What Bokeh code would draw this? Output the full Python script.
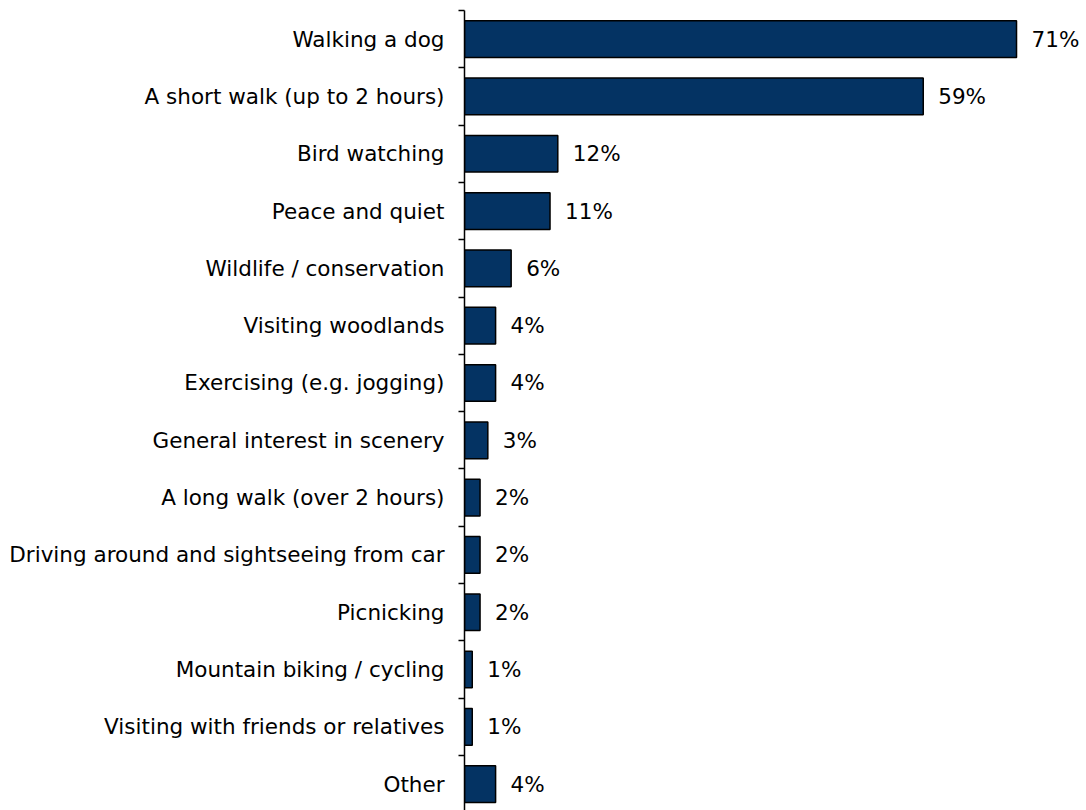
from bokeh.plotting import figure
from bokeh.models import Range1d, FixedTicker, ColumnDataSource
from bokeh.core.properties import value
from bokeh.embed import file_html
from bokeh.resources import INLINE

categories = [
    "Walking a dog",
    "A short walk (up to 2 hours)",
    "Bird watching",
    "Peace and quiet",
    "Wildlife / conservation",
    "Visiting woodlands",
    "Exercising (e.g. jogging)",
    "General interest in scenery",
    "A long walk (over 2 hours)",
    "Driving around and sightseeing from car",
    "Picnicking",
    "Mountain biking / cycling",
    "Visiting with friends or relatives",
    "Other",
]
values = [71, 59, 12, 11, 6, 4, 4, 3, 2, 2, 2, 1, 1, 4]
labels = [f"{v}%" for v in values]

n = len(categories)
ys = [i + 0.5 for i in range(n)]

FONT = "DejaVu Sans"
FS = "21.5px"

src = ColumnDataSource(dict(y=ys, v=values, lab=labels, cat=categories))

p = figure(
    width=1086, height=810,
    output_backend="svg", toolbar_location=None,
    x_range=Range1d(0, 80), y_range=Range1d(start=13.96, end=0),
    x_axis_location=None,
    min_border_left=464, min_border_right=0, min_border_top=10, min_border_bottom=0,
)
p.outline_line_color = None
p.xgrid.visible = False
p.ygrid.visible = False
p.background_fill_color = "white"
p.border_fill_color = "white"

p.hbar(y="y", right="v", left=0, height=0.64, source=src,
       fill_color="#043363", line_color="black", line_width=1.5)

p.text(x="v", y="y", text="lab", source=src, x_offset=15,
       text_baseline="middle", text_align="left",
       text_font=value(FONT), text_font_size=FS, text_color="black")

ax = p.yaxis[0]
ax.ticker = FixedTicker(ticks=ys, minor_ticks=list(range(n + 1)))
ax.major_label_overrides = {y: c for y, c in zip(ys, categories)}
ax.major_tick_line_color = None
ax.major_tick_out = 6
ax.major_tick_in = 0
ax.minor_tick_line_color = "black"
ax.minor_tick_line_width = 1.5
ax.minor_tick_out = 6
ax.minor_tick_in = 0
ax.axis_line_color = "black"
ax.axis_line_width = 1.5
ax.major_label_standoff = 14
ax.major_label_text_font = FONT
ax.major_label_text_font_size = FS
ax.major_label_text_color = "black"

open("out.html", "w").write(file_html(p, INLINE))
